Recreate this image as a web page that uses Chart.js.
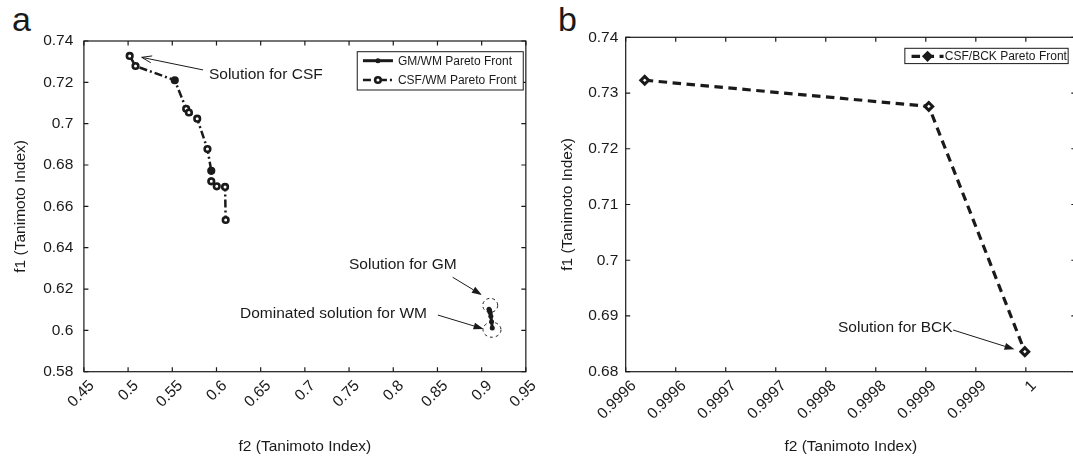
<!DOCTYPE html>
<html>
<head>
<meta charset="utf-8">
<script src="https://cdn.jsdelivr.net/npm/chart.js@4.4.0/dist/chart.umd.min.js"></script>
<style>
html, body { margin: 0; padding: 0; background: #fff; overflow: hidden; width: 1073px; height: 457px; }
.wrap { position: absolute; top: 0; }
.panel { position: absolute; font-family: "Liberation Sans", Arial, sans-serif; font-size: 34px; line-height: 1; color: #1a1a1a; }
</style>
</head>
<body>
<div class="panel" style="left:12px; top:2px">a</div>
<div class="panel" style="left:558px; top:2px">b</div>
<div class="wrap" style="left:0; width:544px; height:457px"><canvas id="chartA" width="544" height="457"></canvas></div>
<div class="wrap" style="left:540px; width:554px; height:457px"><canvas id="chartB" width="554" height="457"></canvas></div>
<script>
// ---- panel a data ----
const gmWmF2 = [0.9083, 0.9090, 0.9096, 0.9104, 0.9112, 0.9120];
const gmWmF1 = [0.6102, 0.6096, 0.6086, 0.6068, 0.6042, 0.6012];
const csfWmF2 = [0.5018, 0.5084, 0.5528, 0.5657, 0.5688, 0.5782, 0.5898, 0.5941, 0.5941, 0.6003, 0.6097, 0.6104];
const csfWmF1 = [0.7328, 0.7279, 0.7210, 0.7072, 0.7054, 0.7024, 0.6877, 0.6772, 0.6721, 0.6697, 0.6694, 0.6534];
const f2TicksA = [0.45, 0.5, 0.55, 0.6, 0.65, 0.7, 0.75, 0.8, 0.85, 0.9, 0.95];
const f2LabelsA = ['0.45', '0.5', '0.55', '0.6', '0.65', '0.7', '0.75', '0.8', '0.85', '0.9', '0.95'];
const f1TicksA = [0.58, 0.6, 0.62, 0.64, 0.66, 0.68, 0.7, 0.72, 0.74];
const f1LabelsA = ['0.58', '0.6', '0.62', '0.64', '0.66', '0.68', '0.7', '0.72', '0.74'];

// ---- panel b data ----
const csfBckF2 = [0.999569, 0.999853, 0.999949];
const csfBckF1 = [0.7323, 0.7276, 0.6836];
const f2TicksB = [0.99955, 0.9996, 0.99965, 0.9997, 0.99975, 0.9998, 0.99985, 0.9999, 0.99995, 1.0];
const f2LabelsB = ['0.9996', '0.9996', '0.9997', '0.9997', '0.9998', '0.9998', '0.9999', '0.9999', '1', '1'];
const f1TicksB = [0.68, 0.69, 0.7, 0.71, 0.72, 0.73, 0.74];
const f1LabelsB = ['0.68', '0.69', '0.7', '0.71', '0.72', '0.73', '0.74'];

const ink = '#1a1a1a';
const fontFam = '"Liberation Sans", Arial, Helvetica, sans-serif';
Chart.defaults.font.family = fontFam;
Chart.defaults.font.size = 15.5;
Chart.defaults.color = ink;

const solidIdx = [2, 7]; // markers that print as solid blobs in the figure

function pts(xs, ys) { return xs.map((x, i) => ({x: x, y: ys[i]})); }

// box + inward ticks on all four sides
const framePlugin = {
  id: 'frame',
  beforeDatasetsDraw(chart) {
    const {ctx, chartArea: a, scales} = chart;
    const len = 4.5;
    ctx.save();
    ctx.strokeStyle = ink;
    ctx.lineWidth = 1.2;
    ctx.strokeRect(a.left, a.top, a.right - a.left, a.bottom - a.top);
    ctx.beginPath();
    scales.x.ticks.forEach(t => {
      const p = scales.x.getPixelForValue(t.value);
      ctx.moveTo(p, a.bottom); ctx.lineTo(p, a.bottom - len);
      ctx.moveTo(p, a.top); ctx.lineTo(p, a.top + len);
    });
    scales.y.ticks.forEach(t => {
      const p = scales.y.getPixelForValue(t.value);
      ctx.moveTo(a.left, p); ctx.lineTo(a.left + len, p);
      ctx.moveTo(a.right, p); ctx.lineTo(a.right - len, p);
    });
    ctx.stroke();
    ctx.restore();
  }
};

function drawArrow(ctx, x0, y0, x1, y1, open) {
  const ang = Math.atan2(y1 - y0, x1 - x0);
  const L = 10, W = 3.5;
  const bx = x1 - L * Math.cos(ang), by = y1 - L * Math.sin(ang);
  const px = -Math.sin(ang) * W, py = Math.cos(ang) * W;
  ctx.beginPath();
  ctx.moveTo(x0, y0);
  ctx.lineTo(open ? x1 : bx, open ? y1 : by);
  ctx.stroke();
  ctx.beginPath();
  ctx.moveTo(bx + px, by + py);
  ctx.lineTo(x1, y1);
  ctx.lineTo(bx - px, by - py);
  if (open) { ctx.stroke(); } else { ctx.closePath(); ctx.fill(); }
}

// text labels, arrows and dashed rings placed in data coordinates
const notesPlugin = {
  id: 'notes',
  afterDatasetsDraw(chart, args, opts) {
    const {ctx, scales: {x, y}} = chart;
    ctx.save();
    ctx.fillStyle = ink;
    ctx.strokeStyle = ink;
    ctx.lineWidth = 1;
    ctx.font = '15.5px ' + fontFam;
    ctx.textBaseline = 'middle';
    (opts.texts || []).forEach(t => {
      ctx.textAlign = t.align || 'left';
      ctx.fillText(t.text, x.getPixelForValue(t.x), y.getPixelForValue(t.y));
    });
    (opts.arrows || []).forEach(a => {
      drawArrow(ctx, x.getPixelForValue(a.x0), y.getPixelForValue(a.y0),
        x.getPixelForValue(a.x1), y.getPixelForValue(a.y1), a.open);
    });
    ctx.setLineDash([3, 3]);
    (opts.rings || []).forEach(r => {
      ctx.beginPath();
      ctx.ellipse(x.getPixelForValue(r.x), y.getPixelForValue(r.y), r.rx, r.ry, 0, 0, Math.PI * 2);
      ctx.stroke();
    });
    ctx.restore();
  }
};

function drawMarker(ctx, ds, cx, cy) {
  const r = ds.legendRadius || ds.pointRadius;
  ctx.save();
  ctx.setLineDash([]);
  ctx.lineWidth = ds.pointBorderWidth;
  ctx.strokeStyle = ink;
  ctx.fillStyle = ds.legendFill || ink;
  ctx.beginPath();
  if (ds.pointStyle === 'rectRot') {
    ctx.moveTo(cx, cy - r); ctx.lineTo(cx + r, cy); ctx.lineTo(cx, cy + r); ctx.lineTo(cx - r, cy);
    ctx.closePath();
  } else {
    ctx.arc(cx, cy, r, 0, Math.PI * 2);
  }
  ctx.fill();
  if (ds.pointBorderWidth) ctx.stroke();
  ctx.restore();
}

// MATLAB-like legend box in the top right corner of the axes
const boxLegend = {
  id: 'boxLegend',
  afterDraw(chart, args, o) {
    const {ctx, chartArea: a} = chart;
    const dsList = chart.data.datasets;
    const left = a.right - o.right - o.width;
    const top = a.top + o.top;
    ctx.save();
    ctx.fillStyle = '#fff';
    ctx.fillRect(left, top, o.width, o.height);
    ctx.strokeStyle = ink;
    ctx.lineWidth = 1;
    ctx.strokeRect(left, top, o.width, o.height);
    ctx.font = '12px ' + fontFam;
    ctx.textBaseline = 'middle';
    ctx.textAlign = 'left';
    dsList.forEach((ds, i) => {
      const ry = top + o.firstRow + i * o.rowH;
      const x0 = left + o.lineX;
      ctx.strokeStyle = ink;
      ctx.lineWidth = ds.borderWidth;
      ctx.setLineDash(ds.borderDash || []);
      ctx.beginPath();
      ctx.moveTo(x0, ry); ctx.lineTo(x0 + o.lineLen, ry);
      ctx.stroke();
      drawMarker(ctx, ds, x0 + o.lineLen / 2, ry);
      ctx.fillStyle = ink;
      ctx.fillText(ds.label, left + o.textX, ry + 0.5);
    });
    ctx.restore();
  }
};

function xScale(min, max, ticks, labels) {
  return {
    type: 'linear', position: 'bottom', min: min, max: max,
    afterBuildTicks: s => { s.ticks = ticks.map(v => ({value: v})); },
    afterFit: s => { s.height = 85.3; },
    grid: {display: false, drawTicks: false},
    border: {display: false},
    ticks: {autoSkip: false, minRotation: 45, maxRotation: 45, padding: 5, labelOffset: 8, color: ink,
      callback: (v, i) => labels[i]},
    title: {display: true, text: 'f2 (Tanimoto Index)', color: ink, padding: {top: 0, bottom: 1}}
  };
}

function yScale(min, max, ticks, labels, width, pad, titlePad) {
  return {
    type: 'linear', position: 'left', min: min, max: max,
    afterBuildTicks: s => { s.ticks = ticks.map(v => ({value: v})); },
    afterFit: s => { s.width = width; },
    grid: {display: false, drawTicks: false},
    border: {display: false},
    ticks: {autoSkip: false, padding: pad, color: ink, callback: (v, i) => labels[i]},
    title: {display: true, text: 'f1 (Tanimoto Index)', color: ink, padding: {top: titlePad, bottom: 0}}
  };
}

const baseOpts = {
  responsive: false,
  animation: false,
  devicePixelRatio: 1,
  events: []
};

new Chart(document.getElementById('chartA'), {
  type: 'scatter',
  data: {
    datasets: [
      {
        label: 'GM/WM Pareto Front',
        data: pts(gmWmF2, gmWmF1),
        showLine: true,
        borderColor: ink, borderWidth: 3,
        pointStyle: 'circle', pointRadius: 2.5, pointBorderWidth: 0,
        pointBackgroundColor: ink, legendFill: ink
      },
      {
        label: 'CSF/WM Pareto Front',
        data: pts(csfWmF2, csfWmF1),
        showLine: true,
        borderColor: ink, borderWidth: 2.5, borderDash: [8, 3, 2, 3],
        pointStyle: 'circle', pointRadius: 2.8, pointBorderWidth: 2.6, pointBorderColor: ink,
        pointBackgroundColor: c => solidIdx.includes(c.dataIndex) ? ink : '#fff',
        legendFill: '#fff'
      }
    ]
  },
  options: Object.assign({}, baseOpts, {
    layout: {padding: {top: 41, right: 0, left: 0, bottom: 0}},
    scales: {
      x: xScale(0.45, 0.95, f2TicksA, f2LabelsA),
      y: yScale(0.58, 0.74, f1TicksA, f1LabelsA, 83.9, 10.6, 11.7)
    },
    plugins: {
      legend: {display: false},
      tooltip: {enabled: false},
      boxLegend: {right: 2.6, top: 10.7, width: 166, height: 38.3, firstRow: 9, rowH: 19.3,
        lineX: 5.7, lineLen: 30, textX: 40.7},
      notes: {
        texts: [
          {text: 'Solution for CSF', x: 0.5915, y: 0.7236},
          {text: 'Solution for GM', x: 0.7499, y: 0.6316},
          {text: 'Dominated solution for WM', x: 0.6266, y: 0.6079}
        ],
        arrows: [
          {x0: 0.5848, y0: 0.7260, x1: 0.5154, y1: 0.7321, open: true},
          {x0: 0.8672, y0: 0.6257, x1: 0.9003, y1: 0.6171},
          {x0: 0.8505, y0: 0.6074, x1: 0.9022, y1: 0.6007}
        ],
        rings: [
          {x: 0.9097, y: 0.6121, rx: 7.5, ry: 7},
          {x: 0.9117, y: 0.6003, rx: 9, ry: 7.5}
        ]
      }
    }
  }),
  plugins: [framePlugin, notesPlugin, boxLegend]
});

new Chart(document.getElementById('chartB'), {
  type: 'scatter',
  data: {
    datasets: [
      {
        label: 'CSF/BCK Pareto Front',
        data: pts(csfBckF2, csfBckF1),
        showLine: true,
        borderColor: ink, borderWidth: 3.2, borderDash: [8.5, 5.5],
        pointStyle: 'rectRot', pointRadius: 3.9, pointBorderWidth: 3, pointBorderColor: ink,
        pointBackgroundColor: '#fff', legendFill: ink, legendRadius: 3.5
      }
    ]
  },
  options: Object.assign({}, baseOpts, {
    layout: {padding: {top: 37.3, right: 0, left: 0, bottom: 0}},
    scales: {
      x: xScale(0.99955, 1.0, f2TicksB, f2LabelsB),
      y: yScale(0.68, 0.74, f1TicksB, f1LabelsB, 85.7, 7.4, 18.7)
    },
    plugins: {
      legend: {display: false},
      tooltip: {enabled: false},
      boxLegend: {right: 7.7, top: 11, width: 163.3, height: 15.3, firstRow: 8, rowH: 19,
        lineX: 6.7, lineLen: 32, textX: 40},
      notes: {
        texts: [
          {text: 'Solution for BCK', x: 0.9998768, y: 0.68784, align: 'right'}
        ],
        arrows: [
          {x0: 0.9998773, y0: 0.68748, x1: 0.9999387, y1: 0.68401}
        ]
      }
    }
  }),
  plugins: [framePlugin, notesPlugin, boxLegend]
});
</script>
</body>
</html>
